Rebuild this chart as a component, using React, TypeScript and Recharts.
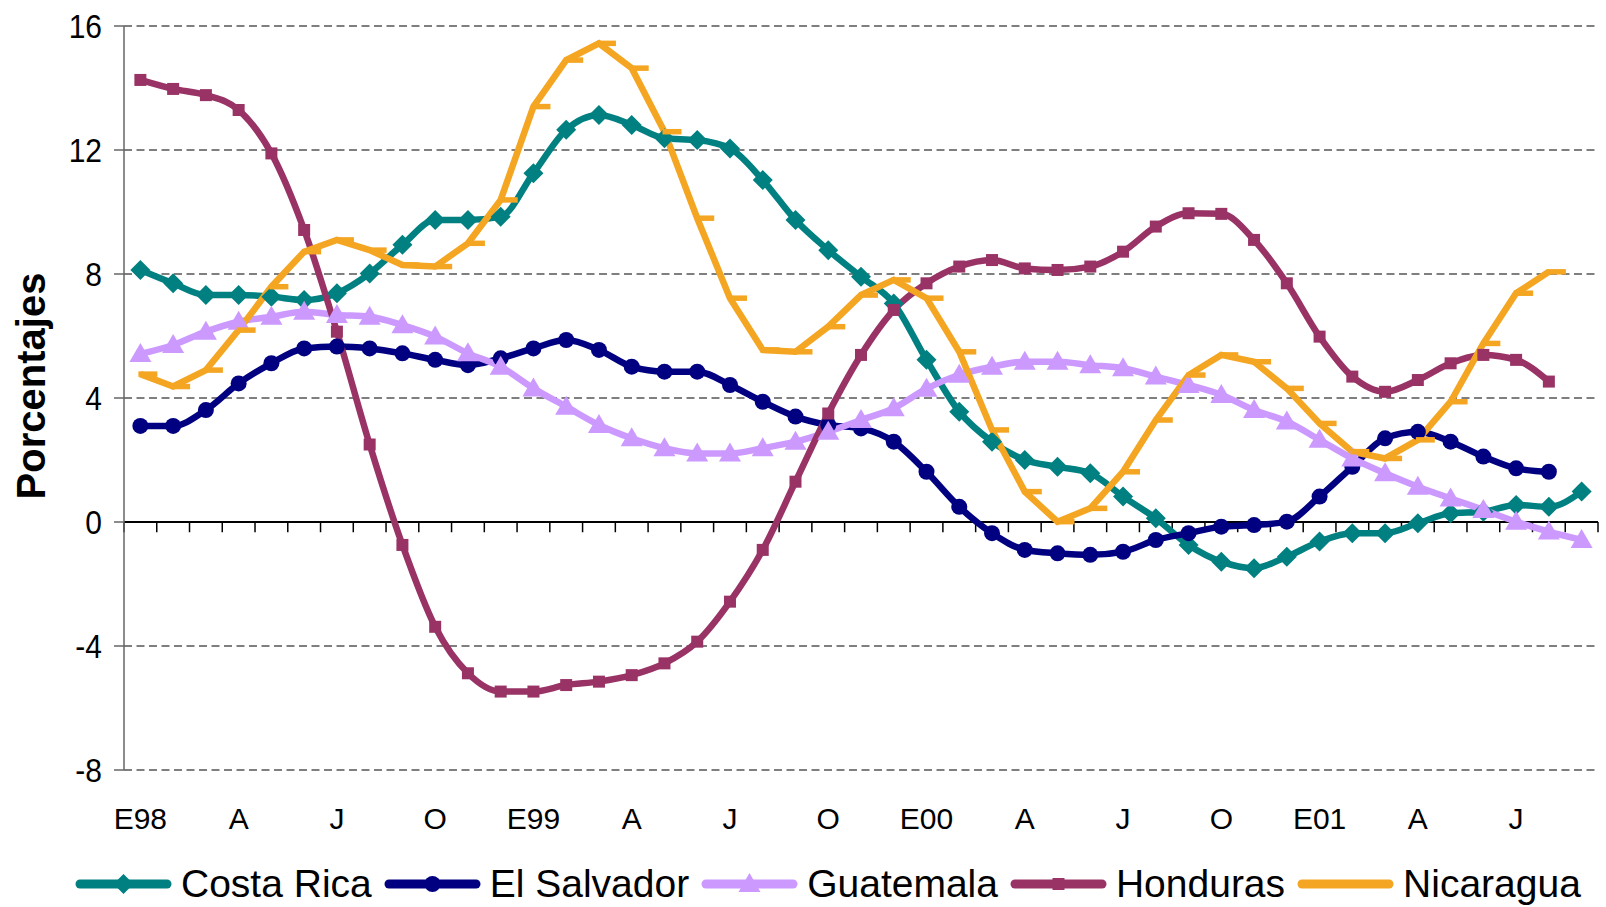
import React from 'react';
import { LineChart, Line, XAxis, YAxis, CartesianGrid, ReferenceLine } from 'recharts';

// monthly series, Jan 1998 - Sep 2001 (percent)
const months = [
  'E98', 'F98', 'M98', 'A98', 'M98', 'J98', 'J98', 'A98', 'S98', 'O98', 'N98', 'D98',
  'E99', 'F99', 'M99', 'A99', 'M99', 'J99', 'J99', 'A99', 'S99', 'O99', 'N99', 'D99',
  'E00', 'F00', 'M00', 'A00', 'M00', 'J00', 'J00', 'A00', 'S00', 'O00', 'N00', 'D00',
  'E01', 'F01', 'M01', 'A01', 'M01', 'J01', 'J01', 'A01', 'S01',
];
const xTicks = [0, 3, 6, 9, 12, 15, 18, 21, 24, 27, 30, 33, 36, 39, 42];
const xTickLabels = ['E98', 'A', 'J', 'O', 'E99', 'A', 'J', 'O', 'E00', 'A', 'J', 'O', 'E01', 'A', 'J'];
const yTicks = [-8, -4, 0, 4, 8, 12, 16];

const costaRica = [
  8.13, 7.7, 7.32, 7.32, 7.27, 7.16, 7.38, 8.02, 8.94, 9.74,
  9.74, 9.85, 11.25, 12.65, 13.13, 12.81, 12.38, 12.32, 12.05, 11.03,
  9.74, 8.77, 7.91, 7.05, 5.23, 3.56, 2.59, 2.0, 1.78, 1.57,
  0.82, 0.12, -0.74, -1.28, -1.49, -1.12, -0.63, -0.36, -0.36, -0.04,
  0.28, 0.33, 0.55, 0.49, 0.98,
];
const elSalvador = [
  3.1, 3.1, 3.61, 4.47, 5.12, 5.6, 5.66, 5.6, 5.44, 5.23,
  5.06, 5.28, 5.6, 5.87, 5.55, 5.01, 4.85, 4.85, 4.42, 3.88,
  3.4, 3.13, 3.02, 2.59, 1.62, 0.49, -0.36, -0.9, -1.01, -1.06,
  -0.96, -0.58, -0.36, -0.15, -0.1, 0.01, 0.82, 1.78, 2.7, 2.91,
  2.59, 2.11, 1.73, 1.62,
];
const guatemala = [
  5.42, 5.71, 6.14, 6.46, 6.62, 6.78, 6.68, 6.62, 6.35, 5.98,
  5.44, 5.01, 4.31, 3.72, 3.13, 2.7, 2.38, 2.21, 2.21, 2.38,
  2.59, 2.91, 3.29, 3.67, 4.3, 4.75, 5.01, 5.17, 5.17, 5.06,
  4.96, 4.69, 4.42, 4.1, 3.61, 3.24, 2.65, 2.05, 1.57, 1.14,
  0.76, 0.39, 0.01, -0.31, -0.58,
];
const honduras = [
  14.26, 13.97, 13.77, 13.29, 11.89, 9.42, 6.14, 2.5, -0.74, -3.38,
  -4.88, -5.47, -5.47, -5.26, -5.15, -4.94, -4.56, -3.86, -2.57, -0.9,
  1.3, 3.5, 5.39, 6.84, 7.7, 8.24, 8.45, 8.18, 8.13, 8.24,
  8.72, 9.53, 9.96, 9.94, 9.1, 7.7, 5.98, 4.69, 4.2, 4.58,
  5.12, 5.39, 5.23, 4.53,
];
const nicaragua = [
  4.77, 4.37, 4.9, 6.19, 7.59, 8.72, 9.1, 8.77, 8.29, 8.24,
  8.99, 10.39, 13.4, 14.9, 15.44, 14.64, 12.59, 9.8, 7.22, 5.55,
  5.49, 6.3, 7.32, 7.81, 7.22, 5.49, 2.97, 0.98, 0.01, 0.44,
  1.62, 3.29, 4.74, 5.39, 5.17, 4.31, 3.18, 2.27, 2.05, 2.65,
  3.88, 5.76, 7.38, 8.07,
];

const data = months.map((m, i) => ({
  i,
  month: m,
  costaRica: costaRica[i] ?? null,
  elSalvador: elSalvador[i] ?? null,
  guatemala: guatemala[i] ?? null,
  honduras: honduras[i] ?? null,
  nicaragua: nicaragua[i] ?? null,
}));

// small tick marks hanging under the zero line, one per month boundary
const boundaries = Array.from({ length: months.length + 1 }, (_, k) => k - 0.5);

const FONT = '"Liberation Sans", Arial, sans-serif';
const C_CR = '#008080';
const C_ES = '#000080';
const C_GU = '#CC99FF';
const C_HO = '#993366';
const C_NI = '#F4A622';

type Shape = 'diamond' | 'circle' | 'triangle' | 'square' | 'dash';

function marker(shape: Shape, color: string, cx: number, cy: number, key?: string) {
  switch (shape) {
    case 'diamond':
      return <path key={key} d={`M${cx},${cy - 10}L${cx + 10},${cy}L${cx},${cy + 10}L${cx - 10},${cy}Z`} fill={color} />;
    case 'circle':
      return <circle key={key} cx={cx} cy={cy} r={8} fill={color} />;
    case 'triangle':
      return <path key={key} d={`M${cx},${cy - 11}L${cx + 11},${cy + 8}L${cx - 11},${cy + 8}Z`} fill={color} />;
    case 'square':
      return <rect key={key} x={cx - 6} y={cy - 6} width={12} height={12} fill={color} />;
    default:
      return <line key={key} x1={cx - 2} y1={cy} x2={cx + 17} y2={cy} stroke={color} strokeWidth={5.5} />;
  }
}

const dotFor = (shape: Shape, color: string) => (p: any) => {
  const key = `${shape}-${p.index}`;
  if (p.cx == null || p.cy == null || p.value == null) return <g key={key} />;
  return marker(shape, color, p.cx, p.cy, key);
};

const series: { key: string; name: string; color: string; shape: Shape; curve: 'monotone' | 'linear' }[] = [
  { key: 'costaRica', name: 'Costa Rica', color: C_CR, shape: 'diamond', curve: 'monotone' },
  { key: 'elSalvador', name: 'El Salvador', color: C_ES, shape: 'circle', curve: 'monotone' },
  { key: 'guatemala', name: 'Guatemala', color: C_GU, shape: 'triangle', curve: 'monotone' },
  { key: 'honduras', name: 'Honduras', color: C_HO, shape: 'square', curve: 'monotone' },
  { key: 'nicaragua', name: 'Nicaragua', color: C_NI, shape: 'dash', curve: 'linear' },
];

// value labels are drawn a little taller than wide
const YTick = ({ x, y, payload }: any) => (
  <g transform={`translate(${x},${y}) scale(1,1.12)`}>
    <text textAnchor="end" dy="0.355em" fontFamily={FONT} fontSize={30} fill="#000">
      {payload.value}
    </text>
  </g>
);

const YTitle = () => (
  <text
    transform="translate(45, 386) rotate(-90)"
    textAnchor="middle"
    fontFamily={FONT}
    fontWeight="bold"
    fontSize={40}
    fill="#000"
  >
    Porcentajes
  </text>
);

function LegendRow() {
  return (
    <div
      style={{
        position: 'absolute',
        left: 75,
        top: 862,
        height: 44,
        display: 'flex',
        alignItems: 'center',
        fontFamily: FONT,
        fontSize: 39,
        color: '#000',
        whiteSpace: 'nowrap',
      }}
    >
      {series.map((s) => (
        <div key={s.key} style={{ display: 'flex', alignItems: 'center', marginRight: 12 }}>
          <svg width={97} height={24} style={{ marginRight: 9 }}>
            <line x1={5} y1={12} x2={92} y2={12} stroke={s.color} strokeWidth={9} strokeLinecap="round" />
            {s.shape !== 'dash' && marker(s.shape, s.color, 48.5, 12)}
          </svg>
          <span>{s.name}</span>
        </div>
      ))}
    </div>
  );
}

export default function App() {
  return (
    <div style={{ position: 'absolute', left: 0, top: 0, width: 1606, height: 907, background: '#fff' }}>
      <LineChart
        width={1606}
        height={907}
        data={data}
        margin={{ top: 26, right: 8, left: 0, bottom: 0 }}
      >
        <CartesianGrid vertical={false} stroke="#555" strokeWidth={1.3} strokeDasharray="8 4.5" />
        <XAxis
          dataKey="i"
          type="number"
          domain={[-0.5, months.length - 0.5]}
          ticks={xTicks}
          tickFormatter={(v: number) => xTickLabels[xTicks.indexOf(v)] ?? ''}
          interval={0}
          height={137}
          axisLine={false}
          tickLine={false}
          tickSize={0}
          tickMargin={38}
          tick={{ fontSize: 30, fill: '#000', fontFamily: FONT }}
        />
        <YAxis
          domain={[-8, 16]}
          ticks={yTicks}
          interval={0}
          width={124}
          axisLine={{ stroke: '#666', strokeWidth: 1.5 }}
          tickLine={{ stroke: '#666', strokeWidth: 1.5 }}
          tickSize={10}
          tickMargin={12}
          tick={<YTick />}
          label={<YTitle />}
        />
        <ReferenceLine y={0} stroke="#000" strokeWidth={1.8} />
        {boundaries.map((b) => (
          <ReferenceLine
            key={`b${b}`}
            segment={[{ x: b, y: 0 }, { x: b, y: -0.33 }]}
            stroke="#000"
            strokeWidth={1.5}
            ifOverflow="visible"
          />
        ))}
        {series.map((s) => (
          <Line
            key={s.key}
            dataKey={s.key}
            type={s.curve}
            stroke={s.color}
            strokeWidth={6.5}
            dot={dotFor(s.shape, s.color)}
            activeDot={false}
            connectNulls={false}
            isAnimationActive={false}
          />
        ))}
      </LineChart>
      <LegendRow />
    </div>
  );
}
